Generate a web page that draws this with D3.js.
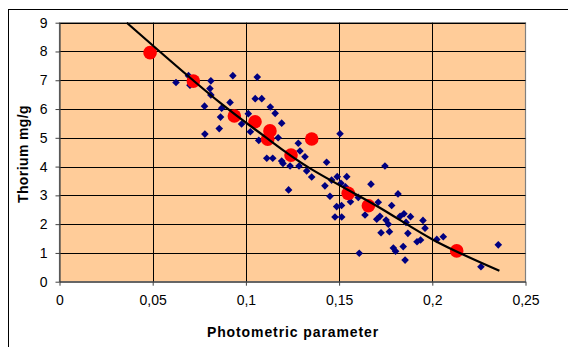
<!DOCTYPE html>
<html>
<head>
<meta charset="utf-8">
<script src="https://cdn.jsdelivr.net/npm/d3@7"></script>
<style>
  html, body { margin: 0; padding: 0; background: #fff; }
  svg { display: block; }
</style>
</head>
<body>
<svg id="chart" width="568" height="347"></svg>
<script>
// ---- Data ----
const sampleX = [0.0625,0.0692,0.0700,0.0812,0.0807,0.0812,0.0778,0.0780,0.0857,0.0864,
  0.0870,0.0915,0.0930,0.0977,0.1013,0.1024,0.1061,0.1050,0.1085,0.1131,
  0.1157,0.1192,0.1173,0.1069,0.1112,0.1144,0.1192,0.1237,0.1281,0.1290,
  0.1317,0.1285,0.1326,0.1353,0.1433,0.1505,0.1229,0.1424,0.1451,0.1460,
  0.1490,0.1541,0.1510,0.1534,0.1487,0.1513,0.1478,0.1514,0.1561,0.1603,
  0.1608,0.1639,0.1671,0.1746,0.1710,0.1702,0.1719,0.1725,0.1752,0.1764,
  0.1770,0.1782,0.1816,0.1791,0.1803,0.1827,0.1883,0.1859,0.1869,0.1844,
  0.1854,0.1950,0.1961,0.1918,0.1937,0.2024,0.2059,0.2261,0.2354,0.1199,0.1848];
const sampleY = [6.92,7.16,6.83,6.98,6.71,6.49,6.10,5.13,5.32,5.72,
  6.03,6.23,7.16,5.48,5.84,5.21,7.11,6.36,6.36,6.07,
  5.85,5.51,5.00,4.91,4.29,4.29,4.19,4.02,4.81,4.54,
  4.34,4.02,3.85,3.64,4.15,5.14,3.19,3.33,2.97,3.53,
  3.65,3.65,3.42,3.30,2.61,2.65,2.25,2.25,2.78,2.93,
  0.99,2.32,3.39,4.02,2.76,2.17,2.27,1.70,2.14,2.00,
  1.74,2.65,3.05,1.17,1.06,2.27,2.26,2.06,1.68,1.22,
  0.75,2.13,1.86,1.39,1.45,1.47,1.56,0.52,1.28,4.11,2.36];

const refX = [0.0486,0.0718,0.0938,0.1049,0.1129,0.1117,0.1242,0.1353,0.1549,0.1657,0.2131];
const refY = [7.96,6.97,5.76,5.56,5.24,4.95,4.40,4.96,3.07,2.64,1.07];

const trendX = [0.0361,0.0539,0.0861,0.1100,0.1344,0.1700,0.2006,0.2360];
const trendY = [9.00,7.99,6.22,5.05,3.94,2.64,1.45,0.38];

const xTicks = [0,0.05,0.1,0.15,0.2,0.25];
const xTickLabels = ["0","0,05","0,1","0,15","0,2","0,25"];
const yTicks = [0,1,2,3,4,5,6,7,8,9];
const yTickLabels = ["0","1","2","3","4","5","6","7","8","9"];

const xTitle = "Photometric parameter";
const yTitle = "Thorium mg/g";

// ---- Layout ----
const svg = d3.select("#chart");
const L = 59.5, R = 525.5, T = 22.7, B = 281.7;

const x = d3.scaleLinear().domain([0, 0.25]).range([L, R]);
const y = d3.scaleLinear().domain([0, 9]).range([B, T]);

// outer chart frame
svg.append("rect").attr("x", 8.5).attr("y", 9.5).attr("width", 700).attr("height", 500)
  .attr("fill", "#fff").attr("stroke", "#000").attr("stroke-width", 1);

// plot area
svg.append("rect").attr("x", L).attr("y", T).attr("width", R - L).attr("height", B - T)
  .attr("fill", "#FFCC99").attr("stroke", "#808080").attr("stroke-width", 1.2);

// gridlines
const grid = svg.append("g");
grid.selectAll("line.h").data(yTicks.filter(v => v > 0)).join("line")
  .attr("x1", L).attr("x2", R)
  .attr("y1", d => Math.round(y(d)) + 0.5).attr("y2", d => Math.round(y(d)) + 0.5)
  .attr("stroke", "#000").attr("stroke-width", 1);
grid.selectAll("line.v").data(xTicks.filter(v => v > 0 && v < 0.25)).join("line")
  .attr("y1", T).attr("y2", B)
  .attr("x1", d => Math.round(x(d)) + 0.5).attr("x2", d => Math.round(x(d)) + 0.5)
  .attr("stroke", "#000").attr("stroke-width", 1);

// axes
const xAxis = d3.axisBottom(x).tickValues(xTicks)
  .tickFormat((d, i) => xTickLabels[i]).tickSize(4).tickSizeOuter(0).tickPadding(9);
const yAxis = d3.axisLeft(y).tickValues(yTicks)
  .tickFormat((d, i) => yTickLabels[i]).tickSize(4).tickSizeOuter(0).tickPadding(8);

const gx = svg.append("g").attr("transform", `translate(0,${B})`).call(xAxis);
const gy = svg.append("g").attr("transform", `translate(${L},0)`).call(yAxis);
[gx, gy].forEach(g => {
  g.select(".domain").attr("stroke", "#404040").attr("stroke-width", 1.2);
  g.selectAll(".tick line").attr("stroke", "#404040");
  g.selectAll(".tick text").attr("font-family", "'Liberation Sans', Arial, sans-serif")
    .attr("font-size", 14).attr("fill", "#000");
});

// diamonds
const diamond = d3.symbol().type(d3.symbolSquare).size(29);
svg.append("g").selectAll("path").data(sampleX.map((v, i) => [v, sampleY[i]])).join("path")
  .attr("d", diamond)
  .attr("transform", d => `translate(${x(d[0])},${y(d[1])}) rotate(45)`)
  .attr("fill", "#000080");

// red circles
svg.append("g").selectAll("circle").data(refX.map((v, i) => [v, refY[i]])).join("circle")
  .attr("cx", d => x(d[0])).attr("cy", d => y(d[1])).attr("r", 6.8)
  .attr("fill", "#FF0000");

// trend line
const line = d3.line().x(d => x(d[0])).y(d => y(d[1])).curve(d3.curveNatural);
svg.append("path").datum(trendX.map((v, i) => [v, trendY[i]]))
  .attr("d", line).attr("fill", "none").attr("stroke", "#000").attr("stroke-width", 2.2);

// axis titles
svg.append("text").attr("x", 293).attr("y", 337).attr("text-anchor", "middle")
  .attr("font-family", "'Liberation Sans', Arial, sans-serif").attr("font-size", 14)
  .attr("font-weight", "bold").attr("letter-spacing", 0.9).text(xTitle);
svg.append("text").attr("transform", "translate(28,154) rotate(-90)").attr("text-anchor", "middle")
  .attr("font-family", "'Liberation Sans', Arial, sans-serif").attr("font-size", 14)
  .attr("font-weight", "bold").attr("letter-spacing", 0.4).text(yTitle);
</script>
</body>
</html>
